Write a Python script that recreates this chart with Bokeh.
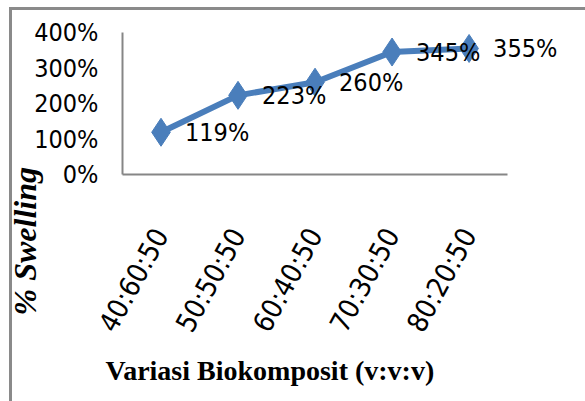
from bokeh.plotting import figure
from bokeh.models import LabelSet, FixedTicker, CustomJSTickFormatter, ColumnDataSource, Range1d, Title
from bokeh.core.properties import value
from bokeh.embed import file_html
from bokeh.resources import INLINE

categories = ["40:60:50", "50:50:50", "60:40:50", "70:30:50", "80:20:50"]
swelling = [119, 223, 260, 345, 355]
data_labels = ["119%", "223%", "260%", "345%", "355%"]
y_ticks = [0, 100, 200, 300, 400]
x_title = "Variasi Biokomposit (v:v:v)"
y_title = "% Swelling"

x_pos = list(range(len(categories)))

BLUE = "#4A7EBB"
GRAY = "#868686"
NARROW = "'Liberation Sans Narrow', 'DejaVu Sans Condensed', Roboto"

p = figure(x_range=Range1d(-0.5, 5.2), y_range=Range1d(0, 400), width=585, height=401,
           output_backend="svg", toolbar_location=None,
           min_border_left=122, min_border_right=24,
           min_border_top=32, min_border_bottom=227)
p.styles = {
    "background": "linear-gradient(#8a8a8a,#8a8a8a) 9px 7px / 3px 100% no-repeat, "
                  "linear-gradient(#8a8a8a,#8a8a8a) 9px 7px / 100% 3px no-repeat, white"
}
p.grid.visible = False
p.outline_line_color = None
p.background_fill_color = "white"
p.border_fill_color = None

p.xaxis.ticker = FixedTicker(ticks=x_pos)
p.xaxis.major_label_overrides = dict(zip(x_pos, categories))
p.xaxis.bounds = (-0.5, 4.5)
p.yaxis.ticker = FixedTicker(ticks=y_ticks)
p.yaxis.formatter = CustomJSTickFormatter(code="return tick + '%'")
for ax in (p.xaxis[0], p.yaxis[0]):
    ax.axis_line_color = GRAY
    ax.axis_line_width = 2
    ax.major_tick_line_color = None
    ax.minor_tick_line_color = None
    ax.major_label_text_color = "black"
    ax.major_label_text_font = NARROW
p.yaxis.major_label_text_font_size = "25px"
p.yaxis.major_label_standoff = 18
p.xaxis.major_label_text_font_size = "28px"
p.xaxis.major_label_orientation = 1.07
p.xaxis.major_label_standoff = 50

p.line(x_pos, swelling, line_color=BLUE, line_width=6)
p.scatter(x_pos, swelling, marker="diamond", size=28, fill_color=BLUE, line_color=BLUE)
src = ColumnDataSource(dict(x=x_pos, y=swelling, t=data_labels))
p.add_layout(LabelSet(x="x", y="y", text="t", source=src, x_offset=24, y_offset=0,
                      text_font=value(NARROW), text_font_size="25px", text_color="black",
                      text_baseline="middle", text_align="left"))

p.add_layout(Title(text=x_title, align="left", offset=-17, standoff=8,
                   text_font="Liberation Serif", text_font_style="bold",
                   text_font_size="28px", text_color="black"), "below")
p.add_layout(Title(text=y_title, align="left", offset=-141, standoff=-22,
                   text_font="Liberation Serif", text_font_style="bold italic",
                   text_font_size="32px", text_color="black"), "left")

open("out.html", "w").write(file_html(p, INLINE))
